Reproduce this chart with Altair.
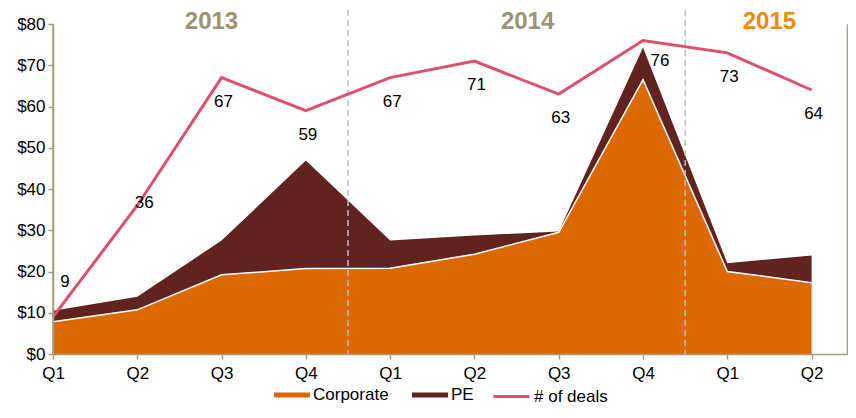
import altair as alt
import pandas as pd

quarters = ["Q1", "Q2", "Q3", "Q4", "Q1", "Q2", "Q3", "Q4", "Q1", "Q2"]
corporate = [7.8, 10.7, 19.2, 20.7, 20.8, 24.2, 29.5, 66.5, 20.0, 17.3]
pe = [2.7, 3.2, 8.3, 26.2, 6.7, 4.5, 0.2, 7.8, 2.0, 6.6]
deals = [9, 36, 67, 59, 67, 71, 63, 76, 73, 64]
years = ["2013", "2014", "2015"]
year_bounds = [0, 3.5, 7.5, 9.5]
year_colors = ["#9c9274", "#9c9274", "#ee8a0c"]

FONT = "Liberation Sans"
FS = 17
AXIS_COLOR = "#a59c7c"
series = ["Corporate", "PE"]
series_colors = ["#dc6900", "#602320"]
deal_color = "#dc506c"

idx = list(range(len(quarters)))
total = [c + p for c, p in zip(corporate, pe)]

rows = []
for i in idx:
    rows.append({"i": i, "kind": "area", "series": "Corporate", "top": corporate[i], "bottom": 0})
    rows.append({"i": i, "kind": "area", "series": "PE", "top": total[i], "bottom": corporate[i]})
    rows.append({"i": i, "kind": "corp", "series": "Corporate", "top": corporate[i], "bottom": 0})
    rows.append({"i": i, "kind": "deal", "series": "# of deals", "top": deals[i], "bottom": 0})
for b in year_bounds[1:-1]:
    rows.append({"i": b, "kind": "bound", "series": "", "top": 83.4, "bottom": 0})
rows.append({"i": 0, "kind": "axisline", "series": "", "top": 80, "bottom": 0})
for k, y in enumerate(years):
    rows.append({"i": (year_bounds[k] + year_bounds[k + 1]) / 2, "kind": "year", "k": k,
                 "series": y, "top": 80.5, "bottom": 0, "color": year_colors[k]})
df = pd.DataFrame(rows)

label_expr = "[" + ",".join("'%s'" % q for q in quarters) + "][datum.value]"
xscale = alt.Scale(domain=[0, 9.42], nice=False, zero=False)
xaxis = alt.Axis(values=idx, labelExpr=label_expr, title=None, grid=False, domain=True,
                 domainColor=AXIS_COLOR, tickColor=AXIS_COLOR, tickSize=5,
                 labelFont=FONT, labelFontSize=FS, labelColor="#000000",
                 labelPadding=6, domainWidth=1.5, tickWidth=1.5, labelFlush=False,
                 zindex=2)
yscale = alt.Scale(domain=[0, 80], nice=False)
yaxis = alt.Axis(values=list(range(0, 81, 10)), labelExpr="'$' + datum.value",
                 title=None, grid=False, domain=True, domainColor=AXIS_COLOR,
                 tickColor=AXIS_COLOR, tickSize=5, labelFont=FONT, labelFontSize=FS,
                 labelColor="#000000", labelPadding=3, domainWidth=1.5, tickWidth=1.5,
                 labelFlush=False, zindex=2)
yaxis_r = alt.Axis(orient="right", values=list(range(0, 81, 10)), labels=False,
                   title=None, grid=False, domain=True, domainColor=AXIS_COLOR,
                   tickColor=AXIS_COLOR, tickSize=5, domainWidth=1.5, tickWidth=1.5,
                   zindex=2)

X = alt.X("i:Q", scale=xscale, axis=xaxis)
Yl = alt.Y("top:Q", scale=yscale, axis=yaxis, stack=None)
Yr = alt.Y("top:Q", scale=yscale, axis=yaxis_r, stack=None)

base = alt.Chart(df)

areas = base.transform_filter("datum.kind == 'area'").mark_area(opacity=1).encode(
    x=X, y=Yl, y2="bottom:Q",
    fill=alt.Fill("series:N", scale=alt.Scale(domain=series, range=series_colors),
                  legend=alt.Legend(title=None, orient="none", direction="horizontal",
                                    legendX=221, legendY=353,
                                    symbolType="M-1,-0.14L1,-0.14L1,0.14L-1,0.14Z",
                                    symbolSize=1296, symbolOpacity=1,
                                    symbolStrokeWidth=0,
                                    labelFont=FONT, labelFontSize=FS, labelColor="#000000",
                                    columnPadding=23, labelOffset=3)),
)

corp_line = base.transform_filter("datum.kind == 'corp'").mark_line(
    color="white", strokeWidth=1.5).encode(x=X, y=Yl)

rules = base.transform_filter("datum.kind == 'bound'").mark_rule(
    color="#bdbdbd", strokeDash=[6, 4], strokeWidth=1.5).encode(x=X, y=Yl, y2="bottom:Q")

axis_line = base.transform_filter("datum.kind == 'axisline'").mark_rule(
    color=AXIS_COLOR, strokeWidth=1.5).encode(x=X, y=Yl, y2="bottom:Q")

def year_layer(filt, dx):
    return base.transform_filter("datum.kind == 'year' && " + filt).mark_text(
        font=FONT, fontSize=24, fontWeight="bold", baseline="middle", dx=dx).encode(
        x=X, y=Yl, text="series:N", color=alt.Color("color:N", scale=None))

year_a = year_layer("datum.k < 2", 11)
year_b = year_layer("datum.k == 2", 0)

deal_line = base.transform_filter("datum.kind == 'deal'").mark_line(strokeWidth=3).encode(
    x=X, y=Yr,
    stroke=alt.Stroke("series:N", scale=alt.Scale(domain=["# of deals"], range=[deal_color]),
                      legend=alt.Legend(title=None, orient="none", direction="horizontal",
                                        legendX=439, legendY=353,
                                        symbolType="stroke", symbolSize=1296,
                                        symbolStrokeWidth=3,
                                        labelFont=FONT, labelFontSize=FS,
                                        labelColor="#000000", labelOffset=3)),
)

def deal_labels(filt, dx, dy):
    return base.transform_filter("datum.kind == 'deal' && " + filt).mark_text(
        font=FONT, fontSize=FS, color="#000000", baseline="middle", dx=dx, dy=dy
    ).encode(x=X, y=Yr, text=alt.Text("top:Q", format="d"))

lab_main = deal_labels("datum.i >= 2 && datum.i != 7", 2, 24)
lab_0 = deal_labels("datum.i == 0", 12, -35)
lab_1 = deal_labels("datum.i == 1", 7, -3)
lab_7 = deal_labels("datum.i == 7", 17, 20)

left = alt.layer(areas, corp_line, rules, axis_line, year_a, year_b)
right = alt.layer(deal_line, lab_main, lab_0, lab_1, lab_7)

chart = alt.layer(left, right).resolve_scale(
    y="independent", fill="independent", stroke="independent"
).properties(
    width=794, height=330,
    autosize=alt.AutoSizeParams(type="none"),
    padding={"left": 45, "top": 16, "right": 1, "bottom": 50},
).configure_view(stroke=None)

chart.save("out.html", embed_options={"renderer": "svg", "actions": False})
